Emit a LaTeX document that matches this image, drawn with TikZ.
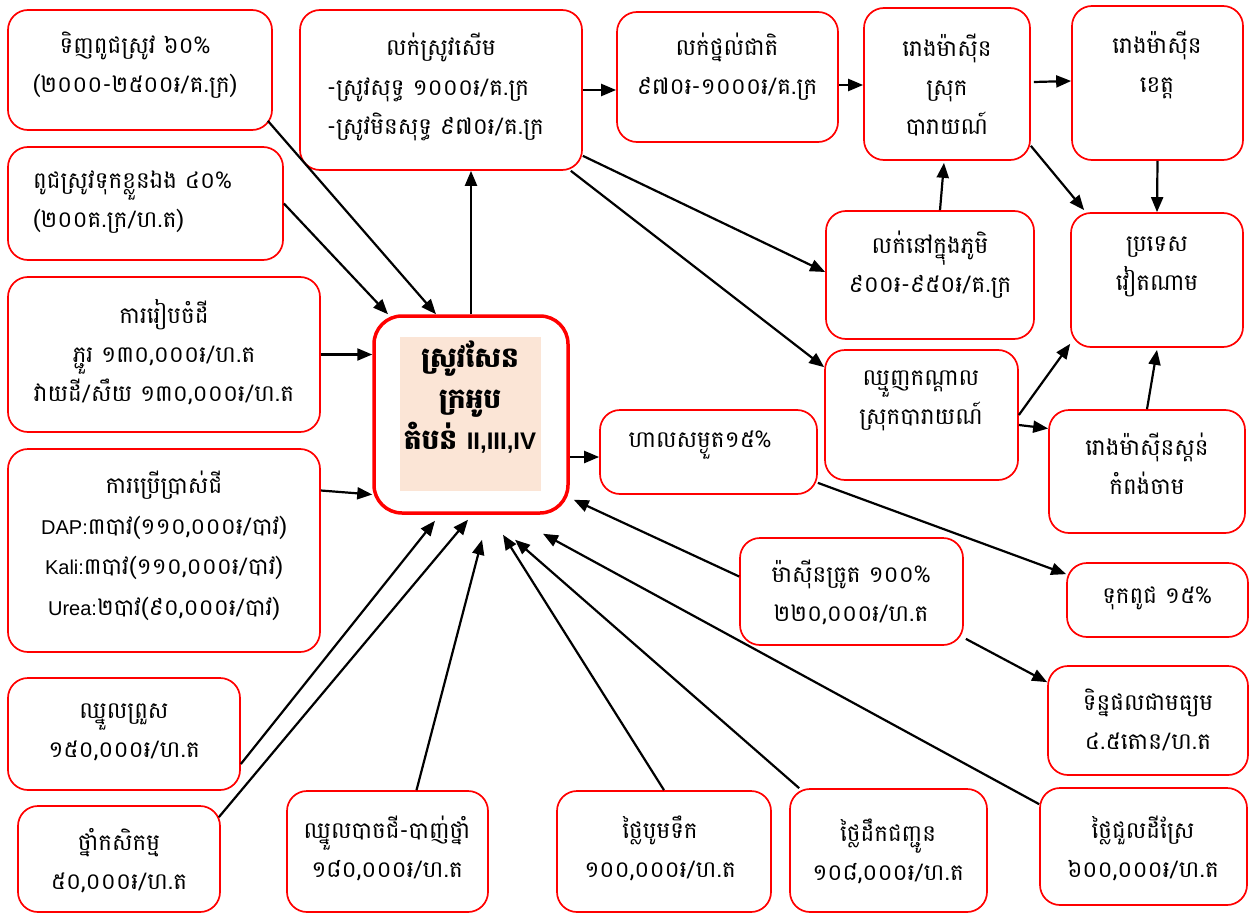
\documentclass[tikz,border=0pt]{standalone}
\usepackage{fontspec}
\setmainfont{Battambang}[Script=Khmer]
\newfontfamily\lat{Liberation Sans}
\newfontfamily\latb{Liberation Sans Bold}
\usetikzlibrary{arrows.meta}
\definecolor{boxred}{RGB}{255,0,0}
\definecolor{peach}{RGB}{251,229,214}
\newcommand\lt[1]{{\lat\fontsize{20}{20}\selectfont #1}}
\tikzset{
 box/.style={draw=boxred, line width=1.7pt, rounded corners=20pt, inner sep=0pt},
 mainbox/.style={draw=boxred, line width=3.5pt, rounded corners=28pt, inner sep=0pt},
 txt/.style={align=center, inner sep=0pt, font=\fontsize{23}{39}\selectfont},
 arr/.style={line width=2.2pt, -{Triangle[length=15pt,width=12pt]}},
}
\newcommand\mkbox[6][box]{\node[#1, minimum width={#5-#3}, minimum height={#6-#4}] (#2) at ({(#3+#5)/2},{(#4+#6)/2}) {};}
\begin{document}
\begin{tikzpicture}[x=1pt,y=-1pt]
\useasboundingbox (0,0) rectangle (1258,915);
% boxes
\mkbox{a1}{8}{10}{272}{130}
\mkbox{sell}{300}{10}{582}{170}
\mkbox{road}{617}{12}{838}{142}
\mkbox{dmill}{864}{8}{1030}{160}
\mkbox{pmill}{1072}{6}{1243}{160}
\mkbox{a2}{8}{147}{283}{260}
\mkbox{village}{826}{211}{1034}{339}
\mkbox{vn}{1071}{213}{1243}{347}
\mkbox{a3}{8}{277}{320}{432}
\fill[peach] (400,337) rectangle (541,491);
\mkbox[mainbox]{main}{374}{316}{568}{513}
\mkbox{mid}{825}{350}{1018}{480}
\mkbox{dry}{600}{410}{817}{494}
\mkbox{kc}{1049}{410}{1245}{533}
\mkbox{a4}{8}{449}{320}{652}
\mkbox{harv}{740}{538}{963}{645}
\mkbox{seed}{1067}{563}{1248}{637}
\mkbox{yield}{1048}{666}{1248}{775}
\mkbox{b1}{8}{678}{240}{790}
\mkbox{b2}{18}{806}{220}{912}
\mkbox{b3}{287}{791}{488}{912}
\mkbox{b4}{557}{791}{771}{912}
\mkbox{b5}{790}{789}{987}{912}
\mkbox{b6}{1040}{788}{1247}{905}
% texts
\node[txt] (a1t) at (135,65) {ទិញពូជស្រូវ ៦០\%\\(២០០០-២៥០០៛/គ.ក្រ)};
\node[txt] (sellt) at (441,47) {លក់ស្រូវសើម};
\node[txt, align=left, anchor=west] (selll) at (327,109) {-ស្រូវសុទ្ធ ១០០០៛/គ.ក្រ\\-ស្រូវមិនសុទ្ធ ៩៧០៛/គ.ក្រ};
\node[txt] (roadt) at (727,67) {លក់ថ្នល់ជាតិ\\៩៧០៛-១០០០៛/គ.ក្រ};
\node[txt] (dmillt) at (947,85) {រោងម៉ាស៊ីន\\ស្រុក\\បារាយណ៍};
\node[txt] (pmillt) at (1157,65) {រោងម៉ាស៊ីន\\ខេត្ត};
\node[txt, align=left, anchor=west] (a2t) at (33,202) {ពូជស្រូវទុកខ្លួនឯង ៤០\%\\(២០០គ.ក្រ/ហ.ត)};
\node[txt] (villaget) at (930,265) {លក់នៅក្នុងភូមិ\\៩០០៛-៩៥០៛/គ.ក្រ};
\node[txt] (vnt) at (1157,267) {ប្រទេស\\វៀតណាម};
\node[txt] (a3t) at (164,352) {ការរៀបចំដី\\ភ្ជួរ ១៣០,០០០៛/ហ.ត\\វាយដី/សឹយ ១៣០,០០០៛/ហ.ត};
\node[txt, font=\fontsize{28}{41}\selectfont\bfseries] (maint) at (470,397) {ស្រូវសែន\\ក្រអូប\\តំបន់ {\latb\fontsize{24}{24}\selectfont II,III,IV}};
\node[txt] (midt) at (921,401) {ឈ្មួញកណ្ដាល\\ស្រុកបារាយណ៍};
\node[txt] (dryt) at (700,445) {ហាលសម្ងួត១៥\%};
\node[txt] (kct) at (1147,464) {រោងម៉ាស៊ីនស្តន់\\កំពង់ចាម};
\node[txt, font=\fontsize{23}{40.5}\selectfont] (a4t) at (164,546) {ការប្រើប្រាស់ជី\\\lt{DAP:}៣បាវ(១១០,០០០៛/បាវ)\\\lt{Kali:}៣បាវ(១១០,០០០៛/បាវ)\\\lt{Urea:}២បាវ(៩០,០០០៛/បាវ)};
\node[txt] (harvt) at (851,592) {ម៉ាស៊ីនច្រូត ១០០\%\\២២០,០០០៛/ហ.ត};
\node[txt] (seedt) at (1157,598) {ទុកពូជ ១៥\%};
\node[txt] (yieldt) at (1148,720) {ទិន្នផលជាមធ្យម\\៤.៥តោន/ហ.ត};
\node[txt] (b1t) at (124,732) {ឈ្នួលព្រួស\\១៥០,០០០៛/ហ.ត};
\node[txt] (b2t) at (119,861) {ថ្នាំកសិកម្ម\\៥០,០០០៛/ហ.ត};
\node[txt] (b3t) at (387,848) {ឈ្នួលបាចជី-បាញ់ថ្នាំ\\១៨០,០០០៛/ហ.ត};
\node[txt] (b4t) at (660,848) {ថ្លៃបូមទឹក\\១០០,០០០៛/ហ.ត};
\node[txt] (b5t) at (888,851) {ថ្លៃដឹកជញ្ជូន\\១០៨,០០០៛/ហ.ត};
\node[txt] (b6t) at (1143,848) {ថ្លៃជួលដីស្រែ\\៦០០,០០០៛/ហ.ត};
% arrows into main
\draw[arr] ([shift={(-5,-10)}]a1.south east) -- ([shift={(-35,0)}]main.north);
\draw[arr] (a2.east) -- ([shift={(-83,0)}]main.north);
\draw[arr] (a3.east) -- ([shift={(0,-60)}]main.west);
\draw[arr] ([shift={(0,-60)}]a4.east) -- ([shift={(0,80)}]main.west);
\draw[arr] ([shift={(0,30)}]b1.east) -- ([shift={(-36,6)}]main.south);
\draw[arr] ([shift={(-2,12)}]b2.north east) -- ([shift={(-3,5)}]main.south);
\draw[arr] ([shift={(29,0)}]b3.north) -- ([shift={(11,25)}]main.south);
\draw[arr] (b4.north) -- ([shift={(32,20)}]main.south);
\draw[arr] ([shift={(10,0)}]b5.north west) -- ([shift={(44,25)}]main.south);
\draw[arr] ([shift={(0,17)}]b6.north west) -- ([shift={(72,19)}]main.south);
\draw[arr] ([shift={(0,-15)}]harv.west) -- ([shift={(4,-15)}]main.south east);
% arrows out
\draw[arr] (main.north) -- ([shift={(30,0)}]sell.south);
\draw[arr] ([shift={(0,42.5)}]main.east) -- ([shift={(0,5)}]dry.west);
\draw[arr] (sell.east) -- ([shift={(0,13)}]road.west);
\draw[arr] ([shift={(0,-15)}]sell.south east) -- ([shift={(0,-3)}]village.west);
\draw[arr] ([shift={(-12,0)}]sell.south east) -- ([shift={(0,18)}]mid.north west);
\draw[arr] ([shift={(0,8)}]road.east) -- ([shift={(0,1)}]dmill.west);
\draw[arr] ([shift={(3,-2)}]dmill.east) -- ([shift={(0,-2)}]pmill.west);
\draw[arr] ([shift={(10,0)}]village.north) -- ([shift={(-3,2)}]dmill.south);
\draw[arr] ([shift={(0,-15)}]dmill.south east) -- ([shift={(14,-2)}]vn.north west);
\draw[arr] (pmill.south) -- (vn.north);
\draw[arr] (mid.east) -- ([shift={(0,-4)}]vn.south west);
\draw[arr] ([shift={(0,10)}]mid.east) -- ([shift={(0,-43)}]kc.west);
\draw[arr] (kc.north) -- ([shift={(0,2)}]vn.south);
\draw[arr] ([shift={(0,-12)}]dry.south east) -- ([shift={(0,12)}]seed.north west);
\draw[arr] ([shift={(2,-7)}]harv.south east) -- ([shift={(0,17)}]yield.north west);
\end{tikzpicture}
\end{document}
